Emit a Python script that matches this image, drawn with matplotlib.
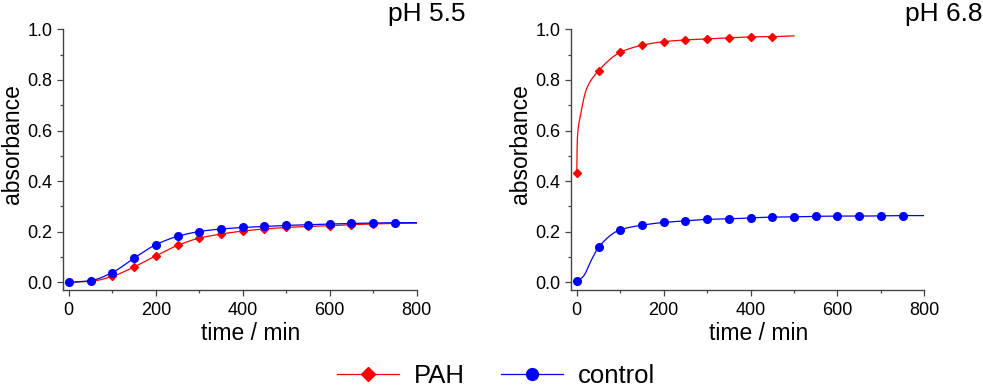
import numpy as np
import matplotlib
matplotlib.use("Agg")
import matplotlib.pyplot as plt
from matplotlib.ticker import MultipleLocator

plt.rcParams['font.family'] = ['Liberation Sans', 'DejaVu Sans']

# measured points (time in min, absorbance)
t_55 = [0, 50, 100, 150, 200, 250, 300, 350, 400, 450, 500, 550, 600, 650, 700, 750]
pah_55 = [0.0, 0.004, 0.024, 0.061, 0.105, 0.146, 0.175, 0.191, 0.203, 0.211,
          0.217, 0.221, 0.224, 0.228, 0.231, 0.233]
ctrl_55 = [0.0, 0.007, 0.039, 0.096, 0.149, 0.182, 0.201, 0.211, 0.217, 0.221,
           0.225, 0.228, 0.230, 0.233, 0.234, 0.236]

t_68_pah = [0, 50, 100, 150, 200, 250, 300, 350, 400, 450]
pah_68 = [0.432, 0.836, 0.909, 0.937, 0.951, 0.958, 0.962, 0.966, 0.970, 0.971]
t_68_ctrl = [0, 50, 100, 150, 200, 250, 300, 350, 400, 450, 500, 550, 600, 650, 700, 750]
ctrl_68 = [0.004, 0.139, 0.208, 0.226, 0.237, 0.243, 0.249, 0.251, 0.255, 0.258,
           0.259, 0.261, 0.262, 0.262, 0.263, 0.264]

# extra points (shape between markers, curve ends)
fit_pah_55 = ([800], [0.234])
fit_ctrl_55 = ([800], [0.236])
fit_pah_68 = ([1, 8, 23, 500], [0.56, 0.655, 0.767, 0.974])
fit_ctrl_68 = ([15, 34, 800], [0.024, 0.09, 0.264])


def pchip(x, y, xs):
    x = np.asarray(x, float)
    y = np.asarray(y, float)
    h = np.diff(x)
    d = np.diff(y) / h
    m = np.zeros_like(y)
    for k in range(1, len(x) - 1):
        if d[k - 1] * d[k] > 0:
            w1 = 2 * h[k] + h[k - 1]
            w2 = h[k] + 2 * h[k - 1]
            m[k] = (w1 + w2) / (w1 / d[k - 1] + w2 / d[k])
    m[0] = d[0]
    m[-1] = d[-1]
    idx = np.clip(np.searchsorted(x, xs) - 1, 0, len(x) - 2)
    s = (xs - x[idx]) / h[idx]
    h00 = 2 * s**3 - 3 * s**2 + 1
    h10 = s**3 - 2 * s**2 + s
    h01 = -2 * s**3 + 3 * s**2
    h11 = s**3 - s**2
    return h00 * y[idx] + h10 * h[idx] * m[idx] + h01 * y[idx + 1] + h11 * h[idx] * m[idx + 1]


def curve(t, a, extra):
    pts = sorted(zip(list(t) + extra[0], list(a) + extra[1]))
    xk = [p[0] for p in pts]
    yk = [p[1] for p in pts]
    xs = np.linspace(xk[0], xk[-1], 800)
    return xs, pchip(xk, yk, xs)


RED = '#ff0000'
BLUE = '#0000ff'

fig = plt.figure(figsize=(9.83, 3.86), dpi=100)
ax1 = fig.add_axes([0.0638, 0.2487, 0.3601, 0.6754])
ax2 = fig.add_axes([0.5806, 0.2487, 0.3597, 0.6754])


def draw(ax, t_p, y_p, ex_p, t_c, y_c, ex_c):
    xs, ys = curve(t_p, y_p, ex_p)
    ax.plot(xs, ys, color=RED, lw=0.9)
    ax.plot(t_p, y_p, ls='none', marker='D', ms=4.5, color=RED)
    xs, ys = curve(t_c, y_c, ex_c)
    ax.plot(xs, ys, color=BLUE, lw=0.9)
    ax.plot(t_c, y_c, ls='none', marker='o', ms=5.5, color=BLUE)

    ax.set_xlim(-14, 800)
    ax.set_ylim(-0.03, 1.0)
    for s in ['top', 'right']:
        ax.spines[s].set_visible(False)
    for s in ['left', 'bottom']:
        ax.spines[s].set_color('#444444')
        ax.spines[s].set_linewidth(1.0)
    ax.xaxis.set_major_locator(MultipleLocator(200))
    ax.xaxis.set_minor_locator(MultipleLocator(100))
    ax.yaxis.set_major_locator(MultipleLocator(0.2))
    ax.yaxis.set_minor_locator(MultipleLocator(0.1))
    ax.yaxis.set_major_formatter(plt.FuncFormatter(lambda v, p: f'{v:.1f}'))
    ax.tick_params(which='major', length=4.5, width=0.9, color='#444444',
                   labelsize=13, pad=3)
    ax.tick_params(axis='x', which='major', pad=4)
    ax.tick_params(which='minor', length=2.5, width=0.9, color='#444444')
    ax.set_xlabel('time / min', fontsize=16.5)
    ax.set_ylabel('absorbance', fontsize=16.5)
    ax.xaxis.set_label_coords(0.532, -0.124)
    ax.yaxis.set_label_coords(-0.11, 0.56)


draw(ax1, t_55, pah_55, fit_pah_55, t_55, ctrl_55, fit_ctrl_55)
draw(ax2, t_68_pah, pah_68, fit_pah_68, t_68_ctrl, ctrl_68, fit_ctrl_68)

fig.text(465 / 983, 0.995, 'pH 5.5', fontsize=19, ha='right', va='top')
fig.text(0.999, 0.995, 'pH 6.8', fontsize=19, ha='right', va='top')

h1, = plt.plot([], [], color=RED, lw=0.9, marker='D', ms=7.5)
h2, = plt.plot([], [], color=BLUE, lw=0.9, marker='o', ms=8.5)
fig.legend([h1, h2], ['PAH', 'control'], loc='lower center',
           bbox_to_anchor=(0.505, -0.064), ncol=2, frameon=False, fontsize=18.5,
           handlelength=2.4, handletextpad=0.6, columnspacing=1.4)

fig.savefig('out.png', dpi=100)
